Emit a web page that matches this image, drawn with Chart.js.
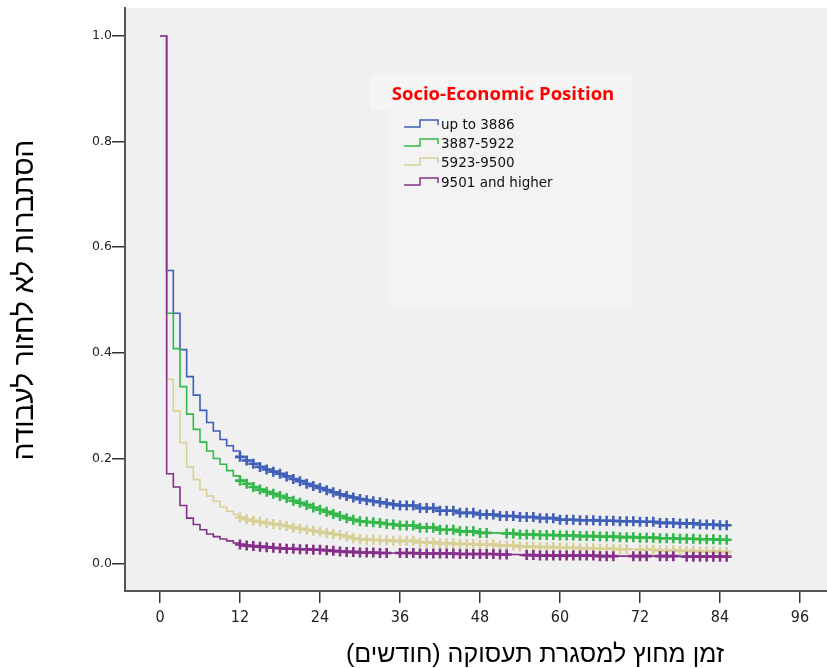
<!DOCTYPE html>
<html>
<head>
<meta charset="utf-8">
<script src="https://cdn.jsdelivr.net/npm/chart.js@4.4.1/dist/chart.umd.min.js"></script>
<style>
  html, body { margin: 0; padding: 0; background: #fff; }
  #wrap { width: 827px; height: 668px; position: relative; }
</style>
</head>
<body>
<div id="wrap"><canvas id="km"></canvas></div>
<script>
// time axis (months) and survival estimates
const months = [0, 1, 2, 3, 4, 5, 6, 7, 8, 9, 10, 11, 12, 13, 14, 15, 16, 17, 18, 19, 20,
    21, 22, 23, 24, 25, 26, 27, 28, 29, 30, 31, 32, 33, 34, 35, 36,
    39, 42, 45, 48, 51, 54, 57, 60, 63, 66, 69, 72, 75, 78, 81, 84, 85];

const upTo3886 = [1.0, 0.556, 0.475, 0.406, 0.355, 0.320, 0.291, 0.268, 0.252, 0.236, 0.224, 0.214, 0.203,
    0.196, 0.190, 0.184, 0.179, 0.175, 0.171, 0.166, 0.161, 0.157, 0.152, 0.148, 0.144,
    0.140, 0.136, 0.132, 0.129, 0.126, 0.123, 0.121, 0.119, 0.117, 0.115, 0.113, 0.111,
    0.106, 0.101, 0.097, 0.094, 0.091, 0.089, 0.087, 0.084, 0.083, 0.082, 0.081, 0.080,
    0.078, 0.077, 0.075, 0.0735, 0.0735];

const s3887to5922 = [1.0, 0.475, 0.408, 0.336, 0.284, 0.255, 0.231, 0.214, 0.200, 0.189, 0.177, 0.167, 0.158,
    0.152, 0.146, 0.141, 0.137, 0.133, 0.129, 0.125, 0.120, 0.116, 0.112, 0.107, 0.103,
    0.099, 0.095, 0.091, 0.087, 0.084, 0.081, 0.080, 0.079, 0.078, 0.076, 0.075, 0.073,
    0.069, 0.065, 0.062, 0.059, 0.058, 0.056, 0.055, 0.054, 0.053, 0.052, 0.051, 0.050,
    0.049, 0.048, 0.047, 0.046, 0.046];

const s5923to9500 = [1.0, 0.350, 0.290, 0.230, 0.184, 0.160, 0.141, 0.129, 0.119, 0.108, 0.100, 0.094, 0.088,
    0.085, 0.082, 0.080, 0.078, 0.076, 0.074, 0.072, 0.069, 0.067, 0.065, 0.063, 0.061,
    0.059, 0.057, 0.055, 0.052, 0.049, 0.047, 0.046, 0.046, 0.045, 0.045, 0.044, 0.044,
    0.041, 0.039, 0.038, 0.037, 0.035, 0.033, 0.032, 0.031, 0.030, 0.029, 0.028, 0.027,
    0.026, 0.025, 0.024, 0.023, 0.023];

const s9501up = [1.0, 0.171, 0.146, 0.111, 0.087, 0.075, 0.065, 0.057, 0.052, 0.0475, 0.044, 0.040, 0.037,
    0.035, 0.034, 0.033, 0.032, 0.031, 0.030, 0.029, 0.029, 0.028, 0.028, 0.027, 0.027,
    0.026, 0.025, 0.024, 0.023, 0.023, 0.022, 0.022, 0.022, 0.021, 0.021, 0.021, 0.021,
    0.020, 0.020, 0.019, 0.019, 0.018, 0.017, 0.016, 0.016, 0.016, 0.015, 0.015, 0.015,
    0.015, 0.014, 0.014, 0.014, 0.014];

// censored observations (months)
const censorBlue = [12, 13, 14, 15, 16, 17, 18, 19, 20, 21, 22, 23, 24, 25, 26, 27, 28, 29, 30, 31, 32, 33, 34, 35,
    36, 37, 38, 39, 40, 41, 42, 43, 44, 45, 46, 47, 48, 49, 50, 51, 52, 53, 54, 55, 56, 57, 58, 59,
    60, 61, 62, 63, 64, 65, 66, 67, 68, 69, 70, 71, 72, 73, 74, 75, 76, 77, 78, 79, 80, 81, 82, 83, 84, 85];
const censorGreen = [12, 13, 14, 15, 16, 17, 18, 19, 20, 21, 22, 23, 24, 25, 26, 27, 28, 29, 30, 31, 32, 33, 34, 35,
    36, 37, 38, 39, 40, 41, 42, 43, 44, 45, 46, 47, 48, 49, 52, 53, 54, 55, 56, 57, 58, 59,
    60, 61, 62, 63, 64, 65, 66, 67, 68, 69, 70, 71, 72, 73, 74, 75, 76, 77, 78, 79, 80, 81, 82, 83, 84, 85];
const censorBeige = [12, 13, 14, 15, 16, 17, 18, 19, 20, 21, 22, 23, 24, 25, 26, 27, 28, 29, 30, 31, 32, 33, 34, 35,
    36, 37, 38, 39, 40, 41, 42, 43, 44, 45, 46, 47, 48, 49, 50, 51, 52, 53, 54, 55, 56, 57, 58, 59,
    60, 61, 62, 63, 64, 65, 66, 67, 68, 69, 70, 72, 73, 74, 75, 76, 77, 78, 79, 80, 81, 82, 83, 84, 85];
const censorPurple = [12, 13, 14, 15, 16, 17, 18, 19, 20, 21, 22, 23, 24, 25, 26, 27, 28, 29, 30, 31, 32, 33, 34,
    36, 37, 38, 39, 40, 41, 42, 43, 44, 45, 46, 47, 48, 49, 50, 51, 52, 55, 56, 57, 58, 59,
    60, 61, 62, 63, 64, 65, 66, 67, 68, 71, 72, 73, 75, 76, 77, 79, 80, 81, 82, 83, 84, 85];

const groupLabels = ['up to 3886', '3887-5922', '5923-9500', '9501 and higher'];
const groupColors = ['#3f5fb8', '#33b84a', '#d8d096', '#862f8a'];
const xTicks = [0, 12, 24, 36, 48, 60, 72, 84, 96];
const yTicks = [0.0, 0.2, 0.4, 0.6, 0.8, 1.0];

const series = [upTo3886, s3887to5922, s5923to9500, s9501up];
const censors = [censorBlue, censorGreen, censorBeige, censorPurple];

// survival value in force at time t (step function)
function survAt(vals, t) {
    let v = vals[0];
    for (let i = 0; i < months.length; i++) {
        if (months[i] <= t) v = vals[i];
    }
    return v;
}

const datasets = [];
series.forEach((vals, i) => {
    datasets.push({
        label: groupLabels[i],
        data: months.map((m, j) => ({ x: m, y: vals[j] })),
        borderColor: groupColors[i],
        borderWidth: 1.6,
        stepped: 'before',
        pointRadius: 0,
        fill: false,
        order: 3 - i
    });
    datasets.push({
        label: groupLabels[i] + ' censored',
        data: censors[i].map(t => ({ x: t, y: survAt(vals, t) })),
        showLine: false,
        pointStyle: 'cross',
        pointRadius: 5,
        pointBorderWidth: 2.6,
        borderColor: groupColors[i],
        backgroundColor: groupColors[i],
        order: 3 - i
    });
});

const plotBackground = {
    id: 'plotBackground',
    beforeDraw(chart) {
        const { ctx, chartArea: a } = chart;
        ctx.save();
        ctx.fillStyle = '#f0f0f0';
        ctx.fillRect(a.left, a.top, a.right - a.left, a.bottom - a.top);
        // legend panel
        ctx.fillStyle = '#f5f5f5';
        ctx.fillRect(370, 75, 262, 35);
        ctx.fillStyle = '#f3f3f3';
        ctx.fillRect(390, 110, 242, 200);
        ctx.restore();
    }
};

const kmLegend = {
    id: 'kmLegend',
    afterDraw(chart) {
        const ctx = chart.ctx;
        ctx.save();
        ctx.fillStyle = '#ff0000';
        ctx.font = 'bold 18.5px "Open Sans", "Liberation Sans", sans-serif';
        ctx.textAlign = 'center';
        ctx.textBaseline = 'middle';
        ctx.fillText('Socio-Economic Position', 503, 95);
        const rows = [124, 143, 162, 182];
        ctx.font = '13.5px "DejaVu Sans", sans-serif';
        ctx.textAlign = 'left';
        rows.forEach((y, i) => {
            ctx.strokeStyle = groupColors[i];
            ctx.lineWidth = 1.5;
            ctx.beginPath();
            ctx.moveTo(404, y + 3);
            ctx.lineTo(420, y + 3);
            ctx.lineTo(420, y - 4);
            ctx.lineTo(438, y - 4);
            ctx.lineTo(438, y + 1);
            ctx.stroke();
            ctx.fillStyle = '#111';
            ctx.fillText(groupLabels[i], 441, y + 1);
        });
        // axis titles
        ctx.fillStyle = '#000';
        ctx.font = '25px "Liberation Sans", "DejaVu Sans", sans-serif';
        ctx.direction = 'rtl';
        ctx.textAlign = 'center';
        ctx.fillText('זמן מחוץ למסגרת תעסוקה (חודשים)', 535, 655);
        ctx.translate(25, 300);
        ctx.rotate(-Math.PI / 2);
        ctx.font = '28px "Liberation Sans", "DejaVu Sans", sans-serif';
        ctx.fillText('הסתברות לא לחזור לעבודה', 0, 0);
        ctx.restore();
    }
};

new Chart(document.getElementById('km'), {
    type: 'line',
    data: { datasets },
    options: {
        responsive: true,
        maintainAspectRatio: false,
        animation: false,
        layout: { autoPadding: false, padding: { top: 8, right: 0, left: 0, bottom: 0 } },
        plugins: {
            legend: { display: false },
            tooltip: { enabled: false }
        },
        scales: {
            x: {
                type: 'linear',
                min: -5.25,
                max: 100.05,
                afterFit(s) { s.height = 77; s.paddingLeft = 0; s.paddingRight = 0; },
                afterBuildTicks(s) { s.ticks = xTicks.map(v => ({ value: v })); },
                border: { display: true, color: '#555', width: 2 },
                grid: { drawOnChartArea: false, drawTicks: true, tickLength: 12, color: '#333', lineWidth: 1.5 },
                ticks: {
                    color: '#222',
                    padding: 5,
                    maxRotation: 0,
                    font: { family: '"Liberation Sans Narrow", "DejaVu Sans Condensed", sans-serif', size: 16 },
                    callback: v => String(v)
                }
            },
            y: {
                type: 'linear',
                min: -0.051,
                max: 1.053,
                afterFit(s) { s.width = 125; s.paddingTop = 0; s.paddingBottom = 0; },
                afterBuildTicks(s) { s.ticks = yTicks.map(v => ({ value: v })); },
                border: { display: true, color: '#555', width: 2 },
                grid: { drawOnChartArea: false, drawTicks: true, tickLength: 13, color: '#333', lineWidth: 1.5 },
                ticks: {
                    color: '#222',
                    padding: 0,
                    font: { family: '"DejaVu Sans", sans-serif', size: 12.5 },
                    callback: v => v.toFixed(1)
                }
            }
        }
    },
    plugins: [plotBackground, kmLegend]
});
</script>
</body>
</html>
